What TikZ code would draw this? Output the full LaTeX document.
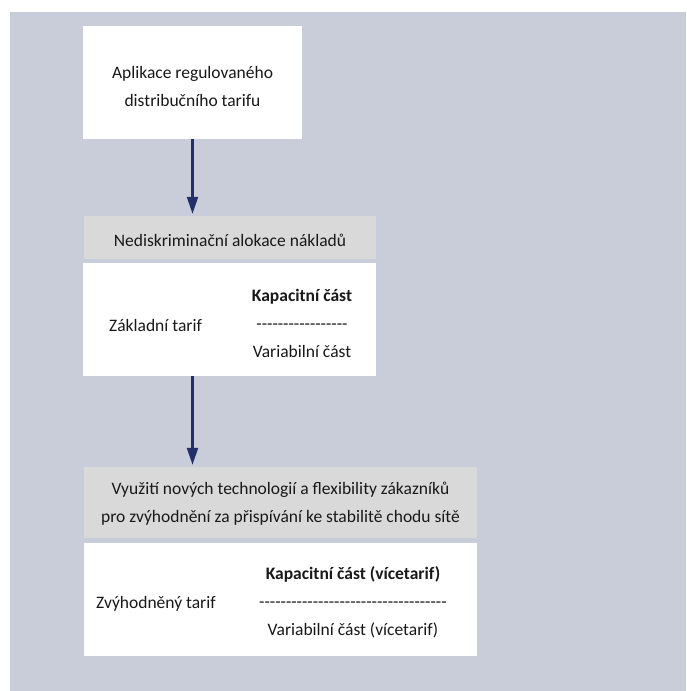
\documentclass[tikz,border=0pt]{standalone}
\usepackage{fontspec}
\setmainfont{Carlito}
\usetikzlibrary{arrows.meta}
\definecolor{bgblue}{RGB}{200,205,217}
\definecolor{hdrgray}{RGB}{217,217,217}
\definecolor{arrownavy}{RGB}{34,47,104}
\definecolor{txt}{RGB}{25,25,25}
\newcommand\dashrun[1]{\foreach \i in {1,...,#1}{-\kern0pt}}
\begin{document}
\begin{tikzpicture}[x=1pt,y=-1pt,
  every node/.style={font=\fontsize{17.5}{28}\selectfont, text=txt, inner sep=0pt},
  panel/.style={rectangle, fill=white, draw=none},
  header/.style={rectangle, fill=hdrgray, draw=none},
  link/.style={draw=arrownavy, line width=2.2pt, shorten >=2pt, -{Triangle[length=17pt,width=11pt]}}]
\fill[white] (0,0) rectangle (686,691);
\fill[bgblue] (10,12) rectangle (686,691);
\useasboundingbox (0,0) rectangle (686,691);
% boxes
\node[panel, minimum width=219pt, minimum height=113pt] (box1) at (192.5,82.5) {};
\node[header, minimum width=292pt, minimum height=43pt] (hdr2) at (230,237.5) {};
\node[panel, minimum width=293pt, minimum height=113pt] (box2) at (229.5,319.5) {};
\node[header, minimum width=393pt, minimum height=71pt] (hdr3) at (280.5,502.5) {};
\node[panel, minimum width=393pt, minimum height=113pt] (box3) at (280.5,599.5) {};
% texts
\node[align=center] (t1) at (192.5,86) {Aplikace regulovaného\\distribučního tarifu};
\node[anchor=base] (t2) at (230,246) {Nediskriminační alokace nákladů};
\node[anchor=base west] (t3a) at (109,331) {Základní tarif};
\node[align=center] (t3b) at (302,323) {\textbf{Kapacitní část}\\\dashrun{17}\\Variabilní část};
\node[align=center] (t4) at (280.5,504) {Využití nových technologií a flexibility zákazníků\\pro zvýhodnění za přispívání ke stabilitě chodu sítě};
\node[anchor=base west] (t5a) at (96,608) {Zvýhodněný tarif};
\node[align=center] (t5b) at (353,602) {\textbf{Kapacitní část (vícetarif)}\\\dashrun{35}\\Variabilní část (vícetarif)};
% connectors
\draw[link] (box1.south) -- (box1.south |- hdr2.north);
\draw[link] (box1.south |- box2.south) -- (box1.south |- hdr3.north);
\end{tikzpicture}
\end{document}
